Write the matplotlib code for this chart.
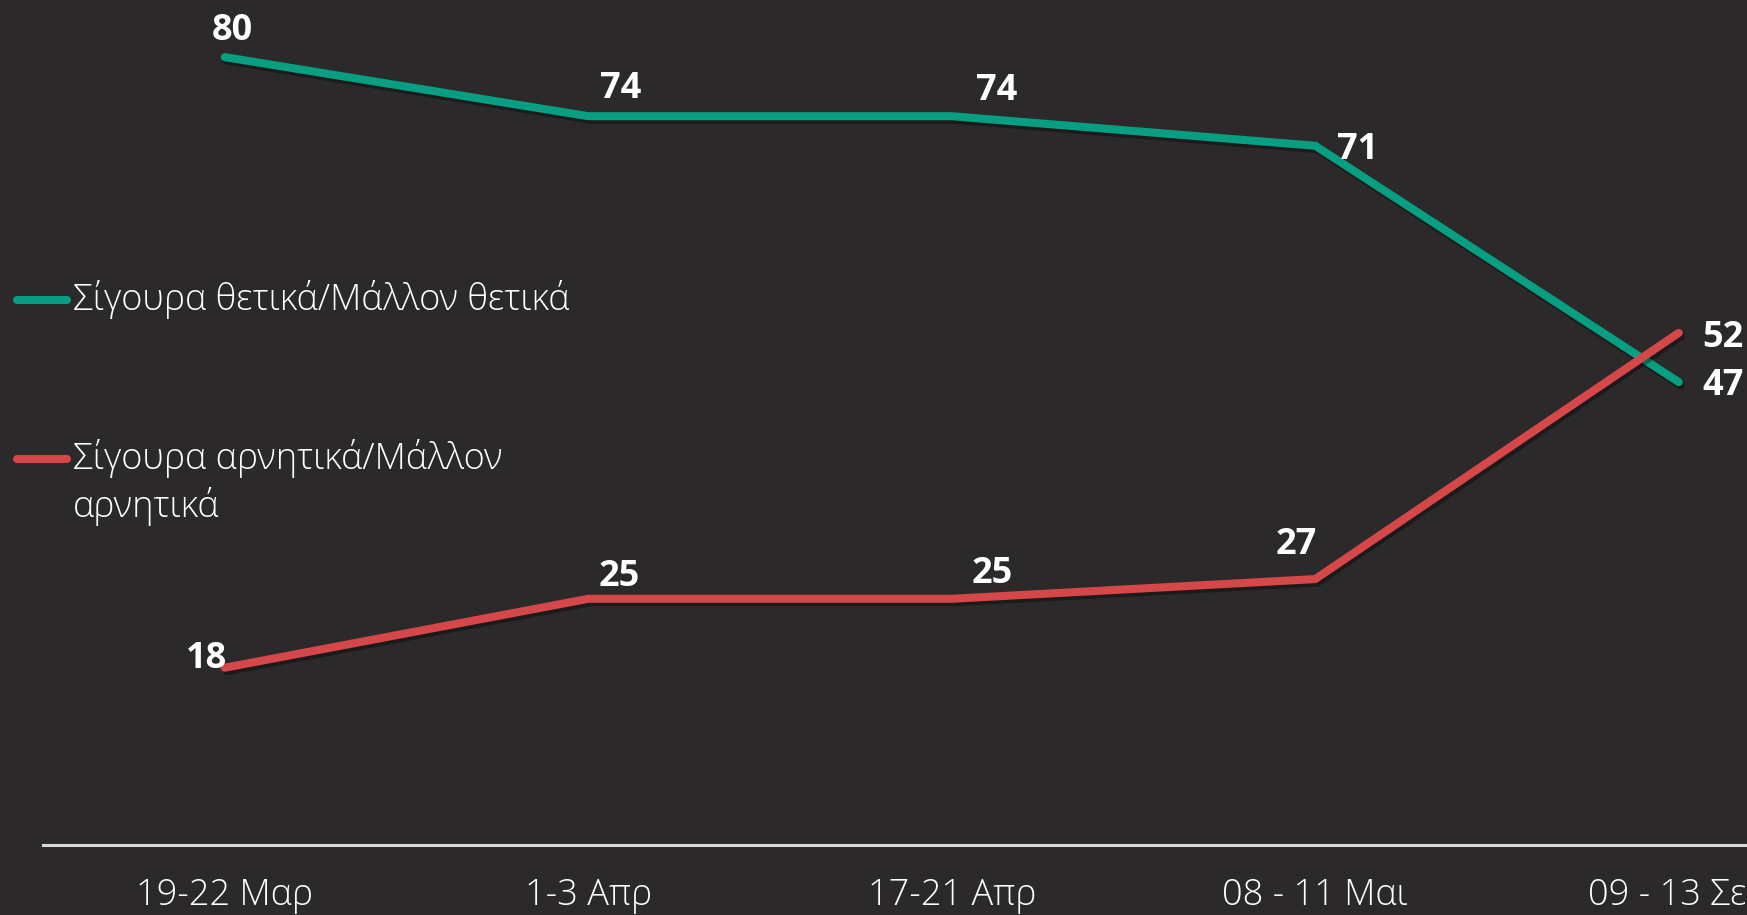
import matplotlib
matplotlib.use("Agg")
import matplotlib.pyplot as plt
import matplotlib.patheffects as pe
from matplotlib.lines import Line2D

# data
periods = ["19-22 Μαρ", "1-3 Απρ", "17-21 Απρ", "08 - 11 Μαι", "09 - 13 Σεπ"]
positive = [80, 74, 74, 71, 47]
negative = [18, 25, 25, 27, 52]
series_names = ["Σίγουρα θετικά/Μάλλον θετικά", "Σίγουρα αρνητικά/Μάλλον\nαρνητικά"]

# label offsets in pixels (dx, dy) for each point
pos_offsets = [(8, 26), (32, 27), (45, 25), (42, -4), (44, -4)]
neg_offsets = [(-18, 9), (31, 22), (40, 25), (-19, 34), (44, -5)]

bg = "#2B292A"
green = "#089E82"
red = "#D6474A"
text_font = ["Open Sans", "DejaVu Sans"]
label_font = ["Open Sans", "DejaVu Sans"]

fig = plt.figure(figsize=(17.47, 9.15), dpi=100, facecolor=bg)
ax = fig.add_axes([43 / 1747, 70 / 915, 1 - 43 / 1747, 845 / 915])
ax.set_facecolor(bg)

x = list(range(len(periods)))
shadow = [pe.SimpleLineShadow(offset=(1.5, -2.5), shadow_color="black", alpha=0.35), pe.Normal()]
ax.plot(x, positive, color=green, lw=5.8, solid_capstyle="round", solid_joinstyle="round",
        path_effects=shadow, clip_on=False)
ax.plot(x, negative, color=red, lw=5.8, solid_capstyle="round", solid_joinstyle="round",
        path_effects=shadow, clip_on=False)

for values, offsets in [(positive, pos_offsets), (negative, neg_offsets)]:
    for xi, v, off in zip(x, values, offsets):
        ax.annotate(str(v), (xi, v), xytext=off, textcoords="offset pixels",
                    ha="center", va="center", color="white", fontsize=26,
                    fontweight="bold", family=label_font, annotation_clip=False)

ax.set_xlim(-0.5, 1704 / 363.5 - 0.5)
ax.set_ylim(0, 85.8)
ax.set_xticks(x)
ax.set_xticklabels(periods, color="white", fontsize=26, fontweight="light", family=text_font)
ax.tick_params(axis="x", length=0, pad=23)
ax.set_yticks([])
for side in ["top", "right", "left"]:
    ax.spines[side].set_visible(False)
ax.spines["bottom"].set_color("#D9D9D9")
ax.spines["bottom"].set_linewidth(2.2)

# legend drawn by hand to match the layout
def fx(px):
    return px / 1747

def fy(py):
    return 1 - py / 915

for name, color, py in [(series_names[0], green, 300), (series_names[1], red, 459)]:
    fig.add_artist(Line2D([fx(17), fx(67)], [fy(py), fy(py)], color=color, lw=5.8,
                          solid_capstyle="round", transform=fig.transFigure))
    for k, line in enumerate(name.split("\n")):
        fig.text(fx(73), fy(py + 48 * k), line, color="white", fontsize=26,
                 fontweight="light", family=text_font, ha="left", va="center",
                 transform=fig.transFigure)

fig.savefig("out.png", dpi=100, facecolor=bg)
